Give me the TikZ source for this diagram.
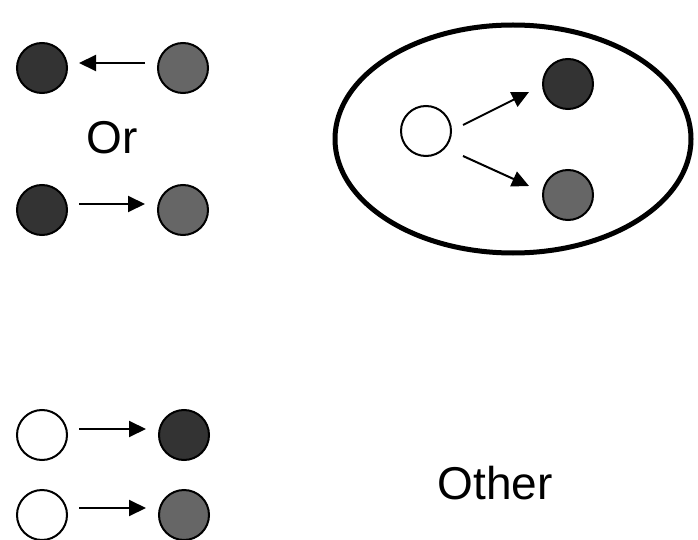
\documentclass[tikz,border=0pt]{standalone}
\usepackage{fontspec}
\setmainfont{Liberation Sans}
\usetikzlibrary{arrows.meta,calc}
\definecolor{darkdot}{HTML}{333333}
\definecolor{graydot}{HTML}{666666}
\tikzset{
  dot/.style={circle,draw=black,line width=2bp,minimum size=50bp,inner sep=0pt,outer sep=0pt},
  darkd/.style={dot,fill=darkdot},
  grayd/.style={dot,fill=graydot},
  whited/.style={dot,fill=white},
  arr/.style={line width=2bp,-{Triangle[length=17bp,width=16bp]}},
  lbl/.style={font=\fontsize{46bp}{52bp}\selectfont,inner sep=0pt}
}
\begin{document}
\begin{tikzpicture}[x=1bp,y=-1bp]
\useasboundingbox (0,0) rectangle (698,540);
% top-left pair 1
\node[darkd] (a1) at (42,68) {};
\node[grayd] (b1) at (183,68) {};
\draw[arr] ([yshift=5bp,xshift=-13bp]b1.west) -- ([yshift=5bp,xshift=12bp]a1.east);
\node[lbl] (or) at (112,138) {Or};
% top-left pair 2
\node[darkd] (a2) at (42,210) {};
\node[grayd] (b2) at (183,210) {};
\draw[arr] ([yshift=6bp,xshift=12bp]a2.east) -- ([yshift=6bp,xshift=-13bp]b2.west);
% ellipse group
\draw[line width=5bp] (513,139) ellipse [x radius=178, y radius=114];
\node[whited] (w) at (426,131) {};
\node[darkd] (d) at (568,84) {};
\node[grayd] (g) at (568,195) {};
\draw[arr] ($(w.center)+(37,-6)$) -- ($(d.center)+(-39,8)$);
\draw[arr] ($(w.center)+(37,25)$) -- ($(g.center)+(-39,-9)$);
% bottom-left pairs
\node[whited] (c1) at (42,435) {};
\node[darkd] (e1) at (184,435) {};
\draw[arr] ([yshift=6bp,xshift=12bp]c1.east) -- ([yshift=6bp,xshift=-13bp]e1.west);
\node[whited] (c2) at (42,515) {};
\node[grayd] (e2) at (184,515) {};
\draw[arr] ([yshift=7bp,xshift=12bp]c2.east) -- ([yshift=7bp,xshift=-13bp]e2.west);
\node[lbl] (other) at (495,483) {Other};
\end{tikzpicture}
\end{document}
